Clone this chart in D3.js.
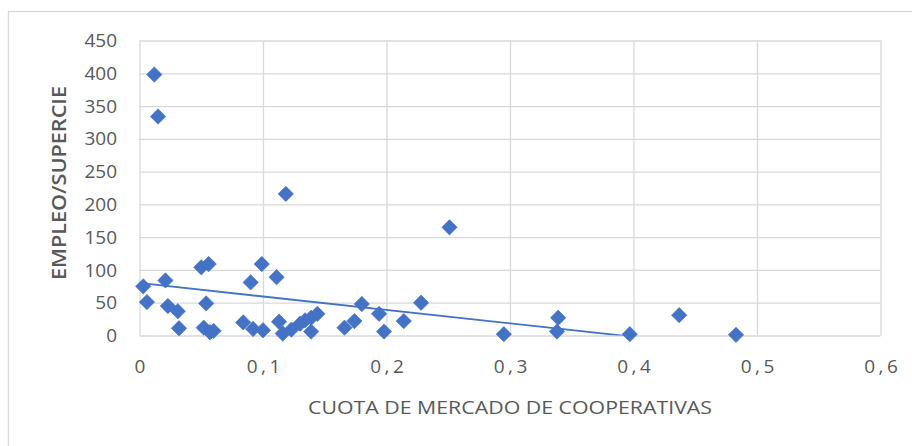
<!DOCTYPE html>
<html>
<head>
<meta charset="utf-8">
<script src="https://cdn.jsdelivr.net/npm/d3@7"></script>
<style>
  html, body { margin: 0; padding: 0; background: #ffffff; }
  svg { display: block; }
</style>
</head>
<body>
<svg id="chart" width="912" height="446"></svg>
<script>
// ---- data ----
const cuota = [0.012, 0.015, 0.003, 0.006, 0.021, 0.023, 0.031, 0.032, 0.050, 0.056,
  0.054, 0.052, 0.057, 0.060, 0.084, 0.090, 0.092, 0.099, 0.100, 0.111,
  0.113, 0.116, 0.1185, 0.123, 0.130, 0.134, 0.139, 0.139, 0.144, 0.166,
  0.174, 0.180, 0.194, 0.198, 0.214, 0.228, 0.251, 0.295, 0.339, 0.338,
  0.397, 0.437, 0.483];
const empleo = [398, 334, 75, 51, 84, 45, 37, 11, 104, 109,
  49, 12, 5, 7, 20, 81, 10, 109, 8, 89,
  21, 3, 216, 9, 18, 23, 27, 6, 33, 12,
  22, 48, 33, 6, 22, 50, 165, 2, 27, 6,
  2, 31, 1];
// linear trendline as drawn in the reference (intercept, slope)
const trendCoef = [80, -205];
const xTicks = [0, 0.1, 0.2, 0.3, 0.4, 0.5, 0.6];
const xTickLabels = ["0", "0,1", "0,2", "0,3", "0,4", "0,5", "0,6"];
const yTicks = [0, 50, 100, 150, 200, 250, 300, 350, 400, 450];
const xTitle = "CUOTA DE MERCADO DE COOPERATIVAS";
const yTitle = "EMPLEO/SUPERCIE";

// ---- drawing ----
(function () {
const svg = d3.select("#chart");
const pL = 139.5, pR = 880.5, pT = 40.5, pB = 335.5;
const x = d3.scaleLinear().domain([0, 0.6]).range([pL, pR]);
const y = d3.scaleLinear().domain([0, 450]).range([pB, pT]);
const grid = "#d9d9d9", txt = "#595959", blue = "#4472C4";
const font = "'Open Sans', 'Noto Sans', sans-serif";

svg.append("rect").attr("x", 0).attr("y", 0).attr("width", 912).attr("height", 446).attr("fill", "#fff");
// outer chart-area border
svg.append("rect").attr("x", 8.5).attr("y", 11.5).attr("width", 940).attr("height", 460)
  .attr("fill", "none").attr("stroke", grid).attr("stroke-width", 1.3);

// y axis + horizontal gridlines
const yAxis = svg.append("g").attr("transform", `translate(${pL},0)`)
  .call(d3.axisLeft(y).tickValues(yTicks).tickFormat(d3.format("d"))
    .tickSizeInner(-(pR - pL)).tickSizeOuter(0).tickPadding(22.5));
yAxis.select(".domain").remove();
yAxis.selectAll("line").attr("stroke", grid).attr("stroke-width", 1.3);
yAxis.selectAll("text").attr("fill", txt).style("font-family", font).style("font-size", "19px");

// x axis + vertical gridlines
const xAxis = svg.append("g").attr("transform", `translate(0,${pB})`)
  .call(d3.axisBottom(x).tickValues(xTicks).tickFormat((d, i) => xTickLabels[i])
    .tickSizeInner(-(pB - pT)).tickSizeOuter(0).tickPadding(24.5));
xAxis.select(".domain").remove();
xAxis.selectAll("line").attr("stroke", grid).attr("stroke-width", 1.3);
xAxis.selectAll("text").attr("fill", txt).style("font-family", font).style("font-size", "19px")
  .style("letter-spacing", "3.5px").attr("dx", "1.75px");

// clip for trendline
svg.append("clipPath").attr("id", "plotclip").append("rect")
  .attr("x", pL).attr("y", pT).attr("width", pR - pL).attr("height", pB - pT);

// trendline
const xMin = d3.min(cuota), xMax = d3.max(cuota);
const trendPts = [xMin, xMax].map(v => [v, trendCoef[0] + trendCoef[1] * v]);
svg.append("path").attr("clip-path", "url(#plotclip)")
  .attr("d", d3.line().x(d => x(d[0])).y(d => y(d[1]))(trendPts))
  .attr("fill", "none").attr("stroke", blue).attr("stroke-width", 1.8);

// markers (diamonds)
const sym = d3.symbol().type(d3.symbolSquare).size(118);
svg.append("g").selectAll("path").data(cuota.map((c, i) => [c, empleo[i]])).join("path")
  .attr("d", sym)
  .attr("transform", d => `translate(${x(d[0])},${y(d[1])}) rotate(45)`)
  .attr("fill", blue).attr("stroke", blue).attr("stroke-width", 0.6);

// axis titles
svg.append("text").attr("x", (pL + pR) / 2).attr("y", 414)
  .attr("text-anchor", "middle").attr("fill", txt)
  .style("font-family", "'Liberation Sans Narrow', 'Open Sans', sans-serif").style("font-size", "19px")
  .attr("textLength", 404).attr("lengthAdjust", "spacingAndGlyphs")
  .text(xTitle);

svg.append("text").attr("transform", `translate(66,${(pT + pB) / 2 - 5}) rotate(-90)`)
  .attr("text-anchor", "middle").attr("fill", txt)
  .style("font-family", font).style("font-size", "19px").style("font-weight", 600)
  .attr("textLength", 194).attr("lengthAdjust", "spacingAndGlyphs")
  .text(yTitle);
})();
</script>
</body>
</html>
